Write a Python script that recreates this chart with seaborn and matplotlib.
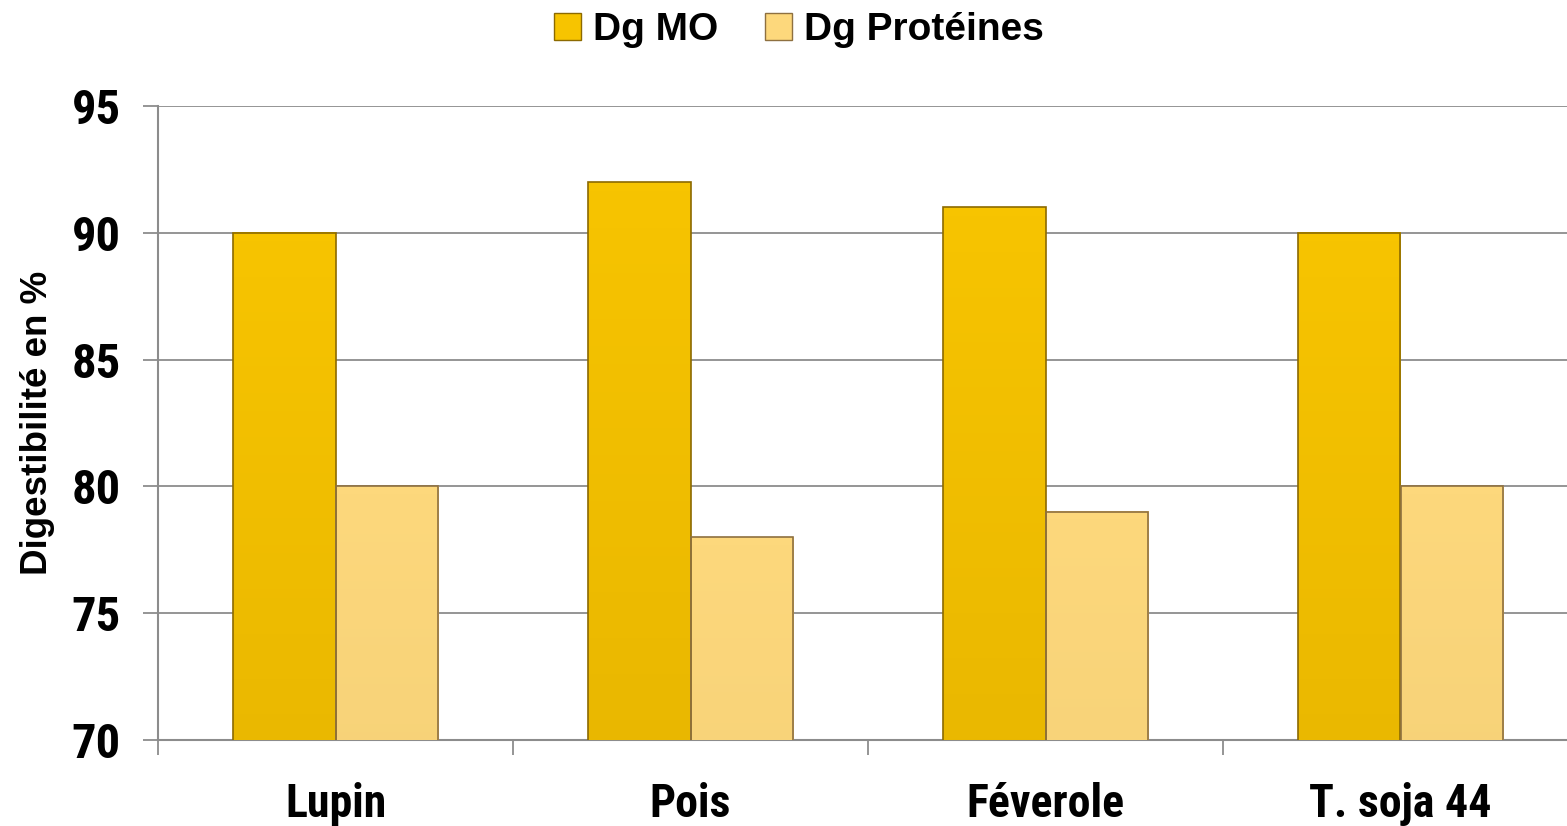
import numpy as np
import pandas as pd
import matplotlib
matplotlib.use("Agg")
import matplotlib.pyplot as plt
import seaborn as sns
from matplotlib.patches import Patch
from matplotlib.colors import LinearSegmentedColormap

categories = ["Lupin", "Pois", "Féverole", "T. soja 44"]
series_names = ["Dg MO", "Dg Protéines"]
dg_mo = [90, 92, 91, 90]
dg_prot = [80, 78, 79, 80]
y_ticks = [70, 75, 80, 85, 90, 95]
y_label = "Digestibilité en %"

sns.set_theme(style="white")
narrow = ['Roboto Condensed', 'Archivo Narrow', 'Liberation Sans', 'DejaVu Sans']
wide = ['Liberation Sans', 'DejaVu Sans']
plt.rcParams['font.family'] = narrow
plt.rcParams['font.weight'] = 'bold'
plt.rcParams['text.color'] = 'black'
plt.rcParams['xtick.color'] = 'black'
plt.rcParams['ytick.color'] = 'black'
plt.rcParams['axes.labelcolor'] = 'black'

df = pd.DataFrame({
    "cat": categories * 2,
    "serie": [series_names[0]] * 4 + [series_names[1]] * 4,
    "val": dg_mo + dg_prot,
})

top_cols = {series_names[0]: "#F7C400", series_names[1]: "#FDD87C"}
bot_cols = {series_names[0]: "#BE9000", series_names[1]: "#D2AE62"}
edge_cols = {series_names[0]: "#8C6A00", series_names[1]: "#8E7040"}

fig = plt.figure(figsize=(15.67, 8.26), dpi=100)
ax = fig.add_axes([158/1567, 86/826, 1420/1567, 634/826])

sns.barplot(data=df, x="cat", y="val", hue="serie", order=categories,
            hue_order=series_names, palette=top_cols, width=0.575,
            ax=ax, legend=False, zorder=3)

# gradients on bars
patches = list(ax.patches)
n = len(categories)
for i, p in enumerate(patches):
    s = series_names[i // n]
    cmap = LinearSegmentedColormap.from_list("g", [bot_cols[s], top_cols[s]])
    x0, w = p.get_x(), p.get_width()
    y0, h = p.get_y(), p.get_height()
    grad = np.linspace(0, 1, 256).reshape(-1, 1)
    ax.imshow(grad, cmap=cmap, origin="lower", aspect="auto",
              extent=(x0, x0 + w, y0, y0 + h), zorder=3.5)
    p.set_edgecolor(edge_cols[s])
    p.set_linewidth(1.2)
    p.set_zorder(4)
    p.set_facecolor("none")
ax.set_xlim(-0.5, len(categories) - 0.5)
ax.set_ylim(70, 95)
ax.set_yticks(y_ticks)

ax.yaxis.grid(True, color="#8C8C8C", linewidth=1.3, zorder=0)
ax.set_axisbelow(True)
for side in ["top", "right"]:
    ax.spines[side].set_visible(False)
for side in ["left", "bottom"]:
    ax.spines[side].set_color("#8C8C8C")
    ax.spines[side].set_linewidth(1.5)

ax.set_xticks(np.arange(len(categories)))
ax.set_xticklabels(categories, fontsize=33, fontweight="bold", color="black")
ax.set_xticks(np.arange(len(categories) + 1) - 0.5, minor=True)
ax.tick_params(axis="x", which="major", bottom=True, length=0, pad=30)
ax.tick_params(axis="x", which="minor", bottom=True, length=11, width=1.3,
               color="#8C8C8C", direction="out")
ax.tick_params(axis="y", left=True, length=11, width=1.3, color="#8C8C8C",
               direction="out", labelsize=35, pad=16, labelcolor="black")
for t in ax.get_yticklabels():
    t.set_fontweight("bold")

ax.set_xlabel("")
ax.set_ylabel(y_label, fontsize=26.5, fontweight="bold", labelpad=12,
              color="black", family=wide)

handles = [Patch(facecolor=top_cols[s], edgecolor=edge_cols[s], label=s) for s in series_names]
fig.legend(handles=handles, loc="center", bbox_to_anchor=(799/1567, 1 - 30/826),
           ncol=2, frameon=False, prop={"size": 28, "weight": "bold", "family": wide},
           handlelength=0.7, handleheight=0.7, columnspacing=1.2, handletextpad=0.3,
           labelcolor="black")

fig.savefig("out.png", dpi=100)
